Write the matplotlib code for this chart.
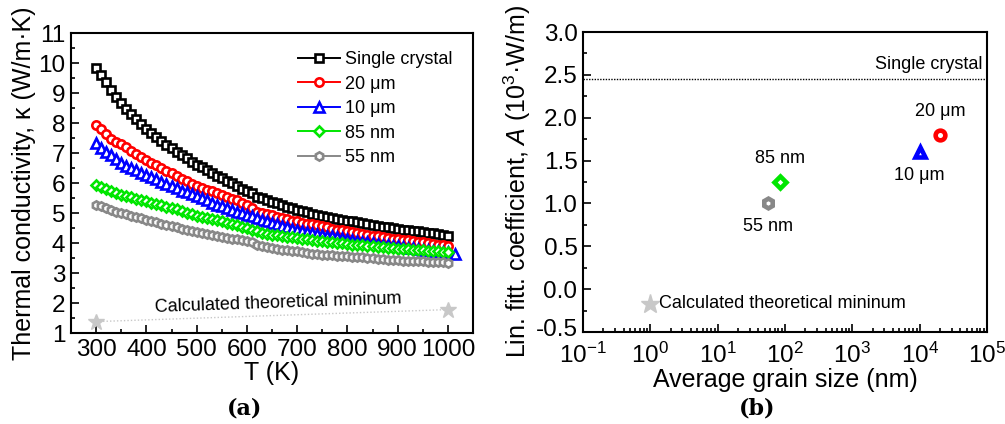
import numpy as np
import matplotlib
matplotlib.use("Agg")
import matplotlib.pyplot as plt
from matplotlib.ticker import MultipleLocator, LogLocator, NullFormatter
from matplotlib.transforms import ScaledTranslation

plt.rcParams['font.family'] = ['Liberation Sans', 'DejaVu Sans']
plt.rcParams['mathtext.fontset'] = 'custom'
plt.rcParams['mathtext.rm'] = 'Liberation Sans'
plt.rcParams['mathtext.it'] = 'Liberation Sans:italic'
plt.rcParams['axes.unicode_minus'] = False

# ---------------- data: panel (a) ----------------
T = np.arange(300, 1001, 10)
T_10um = np.append(np.arange(300, 1001, 10), 1015)

k_single = [9.82, 9.60, 9.38, 9.10, 8.88, 8.67, 8.48, 8.30, 8.13, 7.97,
            7.80, 7.67, 7.54, 7.41, 7.28, 7.16, 7.04, 6.93, 6.82, 6.71,
            6.61, 6.52, 6.43, 6.34, 6.25, 6.17, 6.08, 5.99, 5.90, 5.81,
            5.73, 5.66, 5.55, 5.50, 5.44, 5.38, 5.32, 5.27, 5.21, 5.16,
            5.11, 5.07, 5.02, 4.98, 4.94, 4.90, 4.86, 4.83, 4.80, 4.78,
            4.75, 4.72, 4.69, 4.66, 4.63, 4.60, 4.57, 4.55, 4.52, 4.49,
            4.47, 4.45, 4.43, 4.41, 4.39, 4.37, 4.34, 4.32, 4.30, 4.28,
            4.25]
k_20um = [7.95, 7.80, 7.65, 7.47, 7.36, 7.30, 7.20, 7.08, 6.98, 6.88,
          6.78, 6.68, 6.59, 6.50, 6.41, 6.33, 6.24, 6.15, 6.06, 5.97,
          5.89, 5.83, 5.77, 5.72, 5.66, 5.61, 5.55, 5.48, 5.42, 5.35,
          5.28, 5.18, 5.05, 4.99, 4.96, 4.93, 4.88, 4.83, 4.79, 4.75,
          4.72, 4.68, 4.65, 4.62, 4.59, 4.56, 4.52, 4.48, 4.45, 4.42,
          4.39, 4.36, 4.33, 4.30, 4.27, 4.25, 4.22, 4.20, 4.18, 4.15,
          4.13, 4.11, 4.09, 4.06, 4.04, 4.02, 3.99, 3.97, 3.95, 3.92,
          3.89]
k_10um = [7.33, 7.18, 7.05, 6.93, 6.80, 6.68, 6.58, 6.50, 6.42, 6.35,
          6.28, 6.20, 6.12, 6.04, 5.96, 5.89, 5.82, 5.75, 5.69, 5.62,
          5.56, 5.49, 5.42, 5.35, 5.28, 5.22, 5.16, 5.10, 5.05, 4.99,
          4.94, 4.89, 4.83, 4.78, 4.72, 4.67, 4.62, 4.58, 4.53, 4.48,
          4.44, 4.41, 4.38, 4.34, 4.31, 4.28, 4.25, 4.22, 4.19, 4.16,
          4.13, 4.10, 4.08, 4.05, 4.03, 4.00, 3.98, 3.95, 3.93, 3.91,
          3.89, 3.87, 3.85, 3.82, 3.80, 3.78, 3.76, 3.74, 3.72, 3.70,
          3.69, 3.62]
k_85nm = [5.94, 5.86, 5.80, 5.74, 5.67, 5.61, 5.57, 5.52, 5.48, 5.43,
          5.39, 5.35, 5.30, 5.26, 5.21, 5.17, 5.12, 5.06, 5.01, 4.96,
          4.91, 4.87, 4.83, 4.79, 4.76, 4.72, 4.68, 4.63, 4.59, 4.54,
          4.50, 4.45, 4.40, 4.35, 4.31, 4.28, 4.26, 4.23, 4.21, 4.19,
          4.17, 4.15, 4.13, 4.10, 4.08, 4.06, 4.04, 4.02, 4.00, 3.99,
          3.97, 3.95, 3.94, 3.92, 3.91, 3.89, 3.87, 3.86, 3.84, 3.83,
          3.81, 3.80, 3.79, 3.78, 3.77, 3.76, 3.75, 3.73, 3.72, 3.71,
          3.69]
k_55nm = [5.28, 5.22, 5.17, 5.11, 5.05, 5.00, 4.96, 4.91, 4.87, 4.82,
          4.78, 4.74, 4.69, 4.65, 4.60, 4.56, 4.52, 4.48, 4.44, 4.40,
          4.36, 4.33, 4.30, 4.26, 4.23, 4.20, 4.17, 4.14, 4.12, 4.09,
          4.06, 4.02, 3.95, 3.90, 3.86, 3.83, 3.81, 3.78, 3.76, 3.74,
          3.72, 3.70, 3.68, 3.65, 3.63, 3.61, 3.60, 3.59, 3.58, 3.57,
          3.56, 3.55, 3.53, 3.52, 3.50, 3.49, 3.48, 3.46, 3.45, 3.43,
          3.42, 3.41, 3.41, 3.40, 3.40, 3.39, 3.38, 3.37, 3.36, 3.36,
          3.35]
T_min = [300, 1000]
k_min = [1.38, 1.78]

labels = ["Single crystal", "20 μm", "10 μm", "85 nm", "55 nm"]
colors = ["#000000", "#ff0000", "#0000ff", "#00e600", "#888888"]
markers = ["s", "o", "^", "D", "h"]

# ---------------- data: panel (b) ----------------
grain_nm = [20000, 10000, 85, 55]
coef_A = [1.80, 1.60, 1.25, 1.00]
single_A = 2.45
min_grain = [1.0]
min_A = [-0.17]

FIG_W, FIG_H = 1005, 424
fig = plt.figure(figsize=(FIG_W / 100, FIG_H / 100), dpi=100)

ax1 = fig.add_axes([71 / FIG_W, 1 - 333 / FIG_H, 402 / FIG_W, 300 / FIG_H])
ax2 = fig.add_axes([583 / FIG_W, 1 - 332 / FIG_H, 404 / FIG_W, 300 / FIG_H])

tick_fs = 17.5
label_fs = 18
text_fs = 13

series = [(T, k_single), (T, k_20um), (T_10um, k_10um), (T, k_85nm), (T, k_55nm)]
for (tx, ky), lab, c, m in zip(series, labels, colors, markers):
    ms = 6.0 if m != "D" else 5.2
    if m == "^":
        ms = 6.5
    ax1.plot(tx, ky, color=c, lw=1.4, marker=m, ms=ms, mew=1.9,
             mfc="white", mec=c, label=lab)

ax1.plot(T_min, k_min, color="#c8c8c8", lw=1.0, ls=(0, (1, 1.5)),
         marker="*", ms=12, mfc="#c8c8c8", mec="#c8c8c8")
ax1.text(662, 2.0, "Calculated theoretical mininum",
         fontsize=text_fs, ha="center", va="center", rotation=2)

ax1.set_xlim(250, 1050)
ax1.set_ylim(1, 11)
ax1.set_xticks(np.arange(300, 1001, 100))
ax1.xaxis.set_minor_locator(MultipleLocator(50))
ax1.yaxis.set_major_locator(MultipleLocator(1))
ax1.yaxis.set_minor_locator(MultipleLocator(0.5))
ax1.set_xlabel("T (K)", fontsize=label_fs, labelpad=0)
ax1.set_ylabel("Thermal conductivity, κ (W/m·K)", fontsize=label_fs, labelpad=2)

leg = ax1.legend(loc="upper left", bbox_to_anchor=(0.565, 0.94), frameon=False,
                 fontsize=text_fs, handlelength=2.3, handletextpad=0.3,
                 labelspacing=0.42, borderaxespad=0, borderpad=0)

# panel (b)
ax2.set_xscale("log")
ax2.axhline(single_A, color="black", lw=1.0, ls=(0, (1, 1)))
b_colors = ["#ff0000", "#0000ff", "#00e600", "#888888"]
b_markers = ["o", "^", "D", "h"]
for g, a, c, m in zip(grain_nm, coef_A, b_colors, b_markers):
    ax2.plot([g], [a], ls="none", marker=m, ms=7.0 if m != "D" else 6.0,
             mew=3.3, mfc="white", mec=c)
ax2.plot(min_grain, min_A, ls="none", marker="*", ms=14, mfc="#c8c8c8", mec="#c8c8c8")

ax2.text(0.99, 2.52, "Single crystal", transform=ax2.get_yaxis_transform(),
         ha="right", va="bottom", fontsize=text_fs)
ax2.text(20000, 1.97, "20 μm", ha="center", va="bottom", fontsize=text_fs)
ax2.text(10000, 1.42, "10 μm", ha="center", va="top", fontsize=text_fs)
ax2.text(85, 1.43, "85 nm", ha="center", va="bottom", fontsize=text_fs)
ax2.text(55, 0.83, "55 nm", ha="center", va="top", fontsize=text_fs)
ax2.text(1.35, -0.17, "Calculated theoretical mininum", ha="left", va="center",
         fontsize=text_fs)

ax2.set_xlim(0.1, 1e5)
ax2.set_ylim(-0.5, 3.0)
ax2.xaxis.set_major_locator(LogLocator(base=10, numticks=10))
ax2.xaxis.set_minor_locator(LogLocator(base=10, subs=np.arange(2, 10), numticks=20))
ax2.xaxis.set_minor_formatter(NullFormatter())
ax2.yaxis.set_major_locator(MultipleLocator(0.5))
ax2.yaxis.set_minor_locator(MultipleLocator(0.25))
ax2.set_xlabel("Average grain size (nm)", fontsize=label_fs, labelpad=0)
ax2.set_ylabel("Lin. fitt. coefficient, $A$ (10$^3$·W/m)", fontsize=label_fs, labelpad=2)

for ax in (ax1, ax2):
    for s in ax.spines.values():
        s.set_linewidth(1.5)
    ax.tick_params(which="both", direction="in", top=False, right=False, width=1.2)
    ax.tick_params(which="major", length=6, labelsize=tick_fs, pad=4)
    ax.tick_params(which="minor", length=3)
ax2.tick_params(axis="x", which="major", pad=8)

fig.text(245 / FIG_W, 1 - 408 / FIG_H, "(a)", ha="center", va="center",
         fontsize=16, fontweight="bold", family="DejaVu Serif")
fig.text(757 / FIG_W, 1 - 408 / FIG_H, "(b)", ha="center", va="center",
         fontsize=16, fontweight="bold", family="DejaVu Serif")

# lift the lowest y tick label of panel (b) a little, as in the reference
fig.canvas.draw()
for lab in ax2.get_yticklabels():
    if lab.get_text() in ("-0.5", "−0.5"):
        lab.set_transform(lab.get_transform() +
                          ScaledTranslation(0, 5 / 100, fig.dpi_scale_trans))

fig.savefig("out.png", dpi=100)
